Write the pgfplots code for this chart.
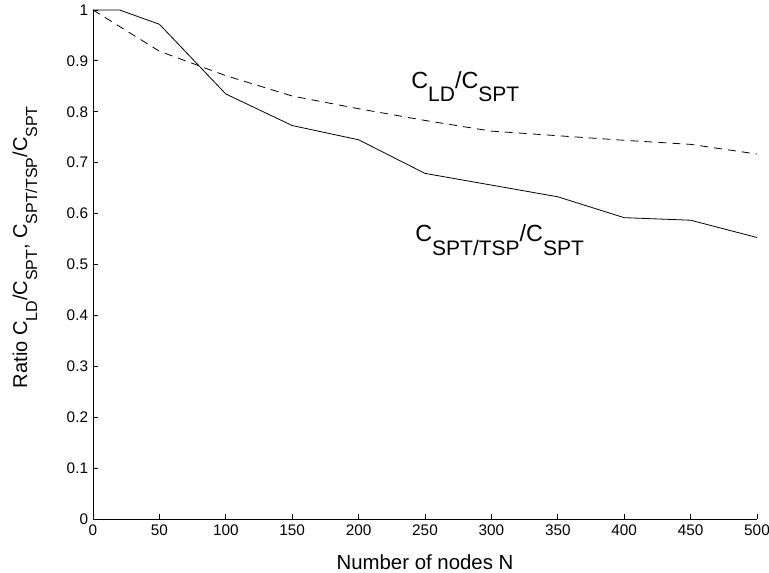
\documentclass[border=0pt]{standalone}
\usepackage{fontspec}
\setmainfont{Liberation Sans}
\usepackage{graphicx}
\usepackage{pgfplots}
\pgfplotsset{compat=1.18}
\newcommand\sub[1]{\raisebox{-0.5em}{\scalebox{0.8}{#1}}}
\newcommand\bsub[1]{\raisebox{-0.58em}{\scalebox{0.9}{#1}}}
\pgfplotstableread{
x y
0 1.000
20 1.000
50 0.972
100 0.835
150 0.773
200 0.745
250 0.679
300 0.656
350 0.633
400 0.592
450 0.587
500 0.553
}\tsp
\pgfplotstableread{
x y
0 1.000
50 0.919
100 0.871
150 0.831
200 0.806
250 0.783
300 0.762
350 0.753
400 0.744
450 0.736
500 0.717
}\ld
\begin{document}
\begin{tikzpicture}
\begin{axis}[
  scale only axis, width=498pt, height=381.75pt,
  xmin=0, xmax=500, ymin=0, ymax=1,
  axis x line*=bottom, axis y line*=left,
  axis line style={-, line width=0.6pt},
  xtick={0,50,100,150,200,250,300,350,400,450,500},
  ytick={0,0.1,0.2,0.3,0.4,0.5,0.6,0.7,0.8,0.9,1},
  tick align=inside, major tick length=4pt,
  tick style={line width=0.6pt, black},
  /pgf/number format/assume math mode=true,
  /pgf/number format/fixed,
  tick label style={font=\fontsize{11.5}{13}\selectfont},
  xticklabel style={inner sep=0pt, anchor=north, yshift=-4.5pt},
  yticklabel style={inner sep=0pt, anchor=east, xshift=-3.5pt},
  xlabel={Number of nodes N},
  xlabel style={font=\fontsize{15.3}{17}\selectfont, at={(axis description cs:0.5,-0.084)}, anchor=center},
  ylabel={Ratio C\sub{LD}/C\sub{SPT}, C\sub{SPT/TSP}/C\sub{SPT}},
  ylabel style={font=\fontsize{15}{17}\selectfont, at={(axis description cs:-0.1024,0.534)}, anchor=center, rotate=0},
]
\addplot[black, line width=0.6pt] table[x=x,y=y] {\tsp};
\addplot[black, line width=0.6pt, dash pattern=on 6pt off 4.5pt] table[x=x,y=y] {\ld};
\node[anchor=base west, inner sep=0pt, font=\fontsize{17.5}{19}\selectfont] at (axis cs:239.5,0.846) {C\bsub{LD}/C\bsub{SPT}};
\node[anchor=base west, inner sep=0pt, font=\fontsize{17.5}{19}\selectfont] at (axis cs:242.5,0.545) {C\bsub{SPT/TSP}/C\bsub{SPT}};
\coordinate (sw) at (rel axis cs:0,0);
\coordinate (ne) at (rel axis cs:1,1);
\end{axis}
\pgfresetboundingbox
\path ([shift={(-69.75pt,-40.5pt)}]sw) rectangle ([shift={(9pt,7.5pt)}]ne);
\end{tikzpicture}
\end{document}
